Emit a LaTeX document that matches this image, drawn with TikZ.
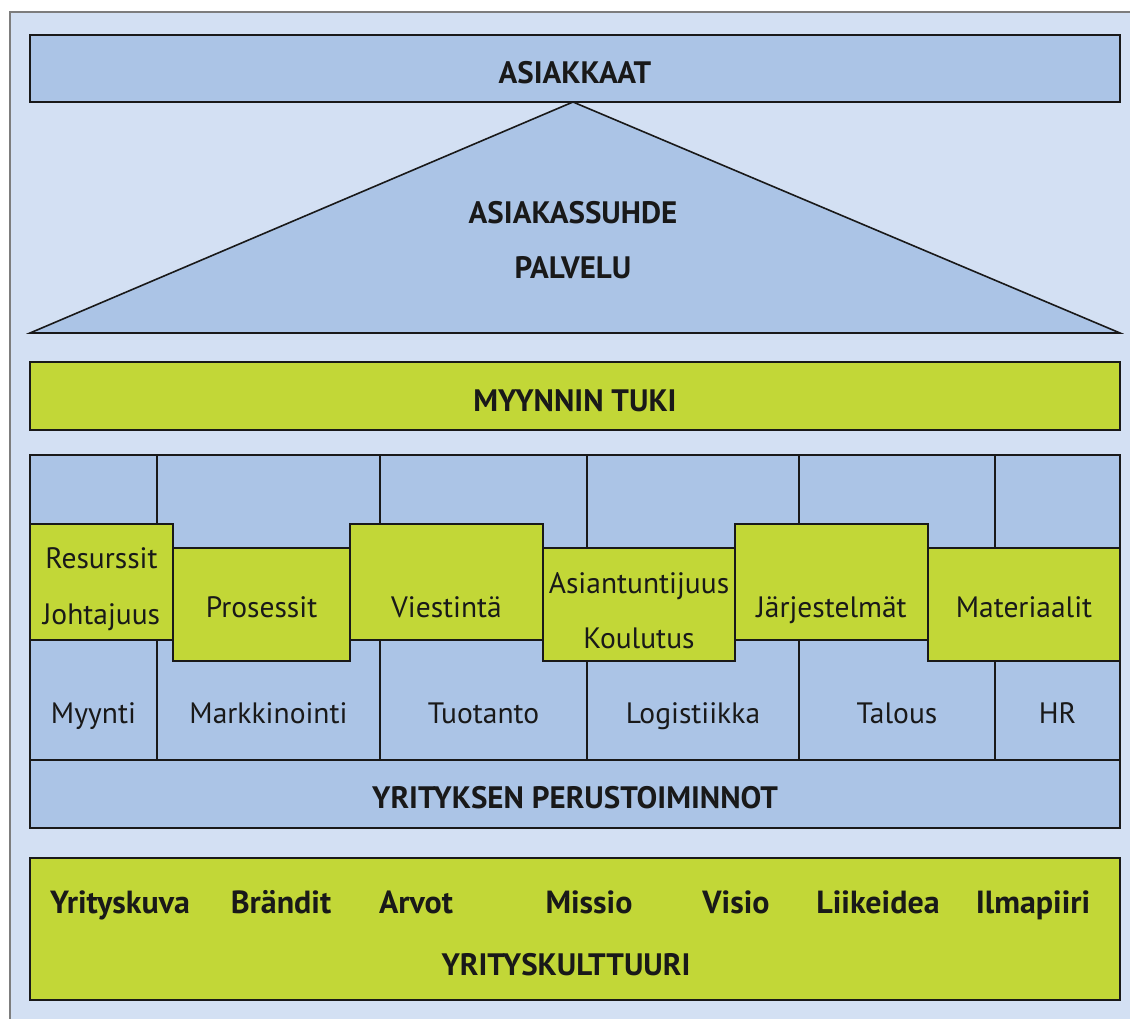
\documentclass[tikz,border=0pt]{standalone}
\usepackage{fontspec}
\setmainfont{PT Sans}
\begin{document}
\definecolor{bgblue}{RGB}{211,224,243}
\definecolor{boxblue}{RGB}{171,196,230}
\definecolor{lime}{RGB}{194,215,55}
\definecolor{ink}{RGB}{25,25,25}
\definecolor{framegray}{RGB}{125,125,125}
\begin{tikzpicture}[x=1pt,y=-1pt,
  every node/.style={inner sep=0pt,outer sep=0pt,text=ink},
  panel/.style={draw=ink,line width=1.6pt,anchor=north west},
  bluebox/.style={panel,fill=boxblue},
  greenbox/.style={panel,fill=lime},
  head/.style={anchor=base,font=\fontsize{31}{36}\selectfont\bfseries},
  lbl/.style={anchor=base,font=\fontsize{29.5}{35}\selectfont},
  word/.style={anchor=base,font=\fontsize{32}{38}\selectfont\bfseries}]
\useasboundingbox (0,0) rectangle (1130,1019);
% page background and outer frame
\fill[bgblue] (10,12) rectangle (1130,1019);
\draw[framegray,line width=2.5pt] (10,1019) -- (10,12) -- (1130,12);

% top bar
\node[bluebox,minimum width=1090pt,minimum height=67pt] (asiakkaat) at (30,35) {};
\node[head] at (575,84) {ASIAKKAAT};

% triangle under the top bar
\coordinate (apex) at (573,102);
\coordinate (bl) at (30,333);
\coordinate (br) at (1120,333);
\draw[fill=boxblue,draw=ink,line width=1.6pt,line join=miter] (bl) -- (apex) -- (br) -- cycle;
\node[head] (suhde) at (573,224) {ASIAKASSUHDE};
\node[head] (palvelu) at (573,279) {PALVELU};

% sales support bar
\node[greenbox,minimum width=1090pt,minimum height=68pt] (tuki) at (30,362) {};
\node[head] at (575,411) {MYYNNIN TUKI};

% business function columns
\node[bluebox,minimum width=127pt,minimum height=305pt] (c1) at (30,455) {};
\node[bluebox,minimum width=223pt,minimum height=305pt] (c2) at (157,455) {};
\node[bluebox,minimum width=207pt,minimum height=305pt] (c3) at (380,455) {};
\node[bluebox,minimum width=212pt,minimum height=305pt] (c4) at (587,455) {};
\node[bluebox,minimum width=196pt,minimum height=305pt] (c5) at (799,455) {};
\node[bluebox,minimum width=125pt,minimum height=305pt] (c6) at (995,455) {};
\node[lbl] at (93.5,723) {Myynti};
\node[lbl] at (268.5,723) {Markkinointi};
\node[lbl] at (483.5,723) {Tuotanto};
\node[lbl] at (693,723) {Logistiikka};
\node[lbl] at (897,723) {Talous};
\node[lbl] at (1057.5,723) {HR};

\node[bluebox,minimum width=1090pt,minimum height=68pt] (perus) at (30,760) {};
\node[head] at (575,808) {YRITYKSEN PERUSTOIMINNOT};

% staggered resource boxes
\node[greenbox,minimum width=143pt,minimum height=116pt] (g1) at (30,524) {};
\node[greenbox,minimum width=177pt,minimum height=113pt] (g2) at (173,548) {};
\node[greenbox,minimum width=193pt,minimum height=116pt] (g3) at (350,524) {};
\node[greenbox,minimum width=192pt,minimum height=113pt] (g4) at (543,548) {};
\node[greenbox,minimum width=193pt,minimum height=116pt] (g5) at (735,524) {};
\node[greenbox,minimum width=192pt,minimum height=113pt] (g6) at (928,548) {};
\node[lbl] at (101.5,568) {Resurssit};
\node[lbl] at (101.5,624) {Johtajuus};
\node[lbl] at (261.5,617) {Prosessit};
\node[lbl] at (446.5,617) {Viestintä};
\node[lbl] at (639,593) {Asiantuntijuus};
\node[lbl] at (639,648) {Koulutus};
\node[lbl] at (831.5,617) {Järjestelmät};
\node[lbl] at (1024,617) {Materiaalit};

% company culture base
\node[greenbox,minimum width=1090pt,minimum height=142pt] (kulttuuri) at (30,858) {};
\node[word] at (120,913) {Yrityskuva};
\node[word] at (281,913) {Brändit};
\node[word] at (416,913) {Arvot};
\node[word] at (589,913) {Missio};
\node[word] at (736,913) {Visio};
\node[word] at (878,913) {Liikeidea};
\node[word] at (1033,913) {Ilmapiiri};
\node[head] at (566,975) {YRITYSKULTTUURI};
\end{tikzpicture}
\end{document}
